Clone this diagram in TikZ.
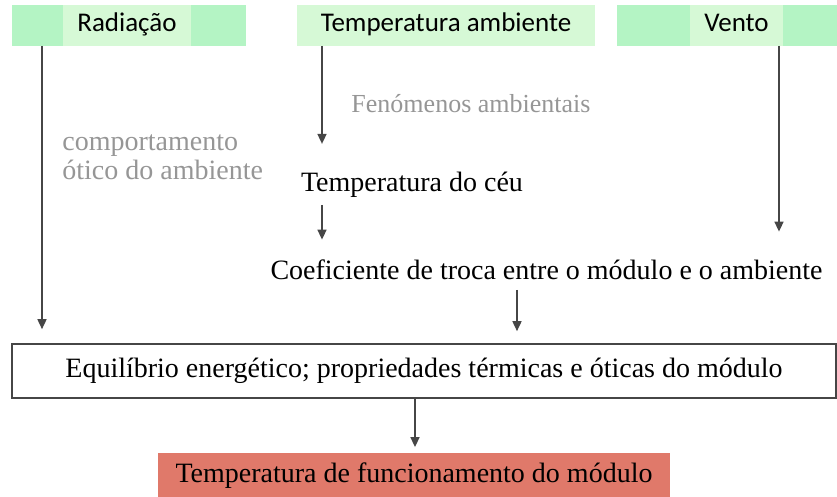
\documentclass[tikz,border=0pt]{standalone}
\usepackage{fontspec}
\setmainfont{Liberation Serif}
\newfontfamily\labelfont{Carlito}
\newfontfamily\notefont{Liberation Serif}
\usepackage{xcolor}
\usepackage{tikz}
\usetikzlibrary{positioning, arrows.meta, calc}
\definecolor{boxgreen}{RGB}{180,244,196}
\definecolor{txtgreen}{RGB}{214,249,214}
\definecolor{outred}{RGB}{224,121,106}
\definecolor{notegray}{RGB}{150,150,150}
\definecolor{linegray}{RGB}{70,70,70}

\begin{document}
\begin{tikzpicture}[x=0.5pt, y=-0.5pt, >={Triangle[length=5pt, width=4.5pt]},
    font=\rmfamily\fontsize{14}{16}\selectfont,
    source/.style={fill=boxgreen, minimum height=20.5pt, inner sep=0pt},
    srclabel/.style={fill=txtgreen, minimum height=20.5pt, inner sep=0pt, text height=9.5pt, text depth=3pt,
        font=\labelfont\fontsize{13.5}{15}\selectfont},
    note/.style={text=notegray, inner sep=0pt, font=\notefont\fontsize{13}{14.5}\selectfont},
    arr/.style={->, linegray, line width=0.8pt}]
    \useasboundingbox (0,0) rectangle (837,497);

    % Sources
    \node[source, minimum width=117pt] (rad) at (129,25.5) {};
    \node[srclabel, minimum width=64pt] (radtxt) at (127,25.5) {Radia\c{c}\~ao};
    \node[srclabel, minimum width=149pt] (temp) at (446,25.5) {Temperatura ambiente};
    \node[source, minimum width=110pt] (vento) at (727,25.5) {};
    \node[srclabel, minimum width=46.5pt] (ventotxt) at (736.5,25.5) {Vento};

    % Notes
    \node[note] (fen) at (471,104) {Fen\'omenos ambientais};
    \node[note, align=left, anchor=base west, font=\notefont\fontsize{14}{14.5}\selectfont] (otico) at (62,180)
        {comportamento\\\'otico do ambiente};

    % Intermediate nodes
    \node[inner sep=0pt] (ceu) at (412,185) {Temperatura do c\'eu};
    \node[inner sep=0pt] (coef) at (546.5,270) {Coeficiente de troca entre o m\'odulo e o ambiente};
    \node[draw=linegray, line width=0.8pt, minimum width=412pt, minimum height=27pt, inner sep=0pt] (eq) at (424,371)
        {Equil\'ibrio energ\'etico; propriedades t\'ermicas e \'oticas do m\'odulo};
    \node[fill=outred, minimum width=256pt, minimum height=22pt, inner sep=0pt] (out) at (414,475.5)
        {Temperatura de funcionamento do m\'odulo};

    % Arrow ends
    \coordinate (radout) at (42,46);
    \coordinate (tempout) at (322,46);
    \coordinate (ventout) at (779,46);
    \coordinate (ceuout) at (322,205);
    \coordinate (coefout) at (517,290);
    \coordinate (eqout) at (415,398);

    % Arrows
    \draw[arr, shorten >=7pt] (radout) -- (radout |- eq.north);
    \draw[arr, shorten >=14pt] (tempout) -- (tempout |- ceu.north);
    \draw[arr, shorten >=14pt] (ventout) -- (ventout |- coef.north);
    \draw[arr, shorten >=10pt] (ceuout) -- (ceuout |- coef.north);
    \draw[arr, shorten >=6pt] (coefout) -- (coefout |- eq.north);
    \draw[arr, shorten >=3pt] (eqout) -- (eqout |- out.north);
\end{tikzpicture}
\end{document}
